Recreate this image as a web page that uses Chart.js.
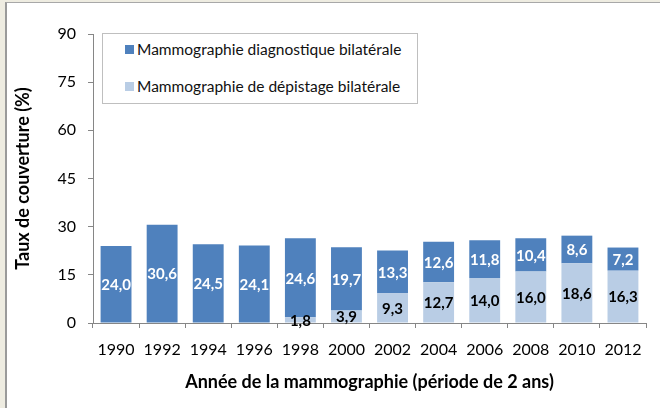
<!DOCTYPE html>
<html lang="fr">
<head>
<meta charset="utf-8">
<script src="https://cdn.jsdelivr.net/npm/chart.js@4"></script>
<style>
  html, body { margin: 0; padding: 0; background: #EEECE1; }
  #page { position: relative; width: 660px; height: 408px; overflow: hidden; }
  #frame {
    position: absolute; left: 5px; top: 2px; right: 0; bottom: 0;
    background: #fff; border-left: 2px solid #9A9A9A; border-top: 1px solid #A8A8A8;
  }
  #coverChart { position: absolute; left: 0; top: 0; }
  #legend {
    position: absolute; left: 102px; top: 33px; width: 316px; height: 71px;
    border: 1px solid #BFBFBF; background: #fff; box-sizing: border-box;
    font-family: Lato, "Liberation Sans", sans-serif; font-size: 15.5px; color: #111;
  }
  .item { position: absolute; left: 22px; display: flex; align-items: center; white-space: nowrap; }
  .swatch { width: 9px; height: 9px; margin-right: 3px; }
</style>
</head>
<body>
<div id="page">
  <div id="frame"></div>
  <canvas id="coverChart" width="660" height="408"></canvas>
  <div id="legend"></div>
</div>
<script>
// ===============================
// Données : taux de couverture (%)
// ===============================
const years = ["1990", "1992", "1994", "1996", "1998", "2000", "2002", "2004", "2006", "2008", "2010", "2012"];
const diagnostic = [24.0, 30.6, 24.5, 24.1, 24.6, 19.7, 13.3, 12.6, 11.8, 10.4, 8.6, 7.2];
const depistage = [null, null, null, null, 1.8, 3.9, 9.3, 12.7, 14.0, 16.0, 18.6, 16.3];
const yTicks = [0, 15, 30, 45, 60, 75, 90];

const FONT = "Lato, 'Liberation Sans', sans-serif";
const AXIS_GREY = "#868686";

// Étiquettes de valeurs au centre de chaque segment
const valueLabels = {
  id: "valueLabels",
  afterDatasetsDraw(chart) {
    const ctx = chart.ctx;
    ctx.save();
    ctx.font = "bold 15px " + FONT;
    ctx.textAlign = "center";
    ctx.textBaseline = "middle";
    chart.data.datasets.forEach((ds, i) => {
      const meta = chart.getDatasetMeta(i);
      meta.data.forEach((bar, j) => {
        const v = ds.data[j];
        if (v == null) return;
        const { x, y, base } = bar.getProps(["x", "y", "base"], true);
        ctx.fillStyle = ds.labelColor;
        ctx.fillText(v.toFixed(1).replace(".", ","), x, (y + base) / 2 + 1);
      });
    });
    ctx.restore();
  }
};

const chart = new Chart(document.getElementById("coverChart").getContext("2d"), {
  type: "bar",
  data: {
    labels: years,
    datasets: [
      {
        label: "Mammographie de dépistage bilatérale",
        data: depistage,
        backgroundColor: "#B9CDE5",
        labelColor: "#000",
        legendOrder: 2
      },
      {
        label: "Mammographie diagnostique bilatérale",
        data: diagnostic,
        backgroundColor: "#4F81BD",
        labelColor: "#fff",
        legendOrder: 1
      }
    ]
  },
  options: {
    responsive: false,
    animation: false,
    events: [],
    layout: { padding: { top: 34, right: 14, bottom: 0, left: 10 } },
    datasets: { bar: { barPercentage: 0.67, categoryPercentage: 1, borderWidth: 0 } },
    plugins: { legend: { display: false }, tooltip: { enabled: false } },
    scales: {
      x: {
        stacked: true,
        offset: true,
        grid: { offset: true, drawOnChartArea: false, drawTicks: true, tickLength: 5, color: AXIS_GREY },
        border: { color: AXIS_GREY, width: 1 },
        ticks: { color: "#000", font: { family: FONT, size: 16 }, padding: 12, maxRotation: 0 },
        title: {
          display: true,
          text: "Année de la mammographie (période de 2 ans)",
          color: "#000",
          font: { family: FONT, size: 18, weight: "bold" },
          padding: { top: 0, bottom: 15 }
        },
        afterFit: scale => { scale.height = 85; }
      },
      y: {
        stacked: true,
        min: 0,
        max: 90,
        afterBuildTicks: scale => { scale.ticks = yTicks.map(v => ({ value: v })); },
        grid: { drawOnChartArea: false, drawTicks: true, tickLength: 5, color: AXIS_GREY },
        border: { color: AXIS_GREY, width: 1 },
        ticks: { color: "#000", font: { family: FONT, size: 16 }, padding: 12 },
        title: {
          display: true,
          text: "Taux de couverture (%)",
          color: "#000",
          font: { family: FONT, size: 18, weight: "bold" },
          padding: { top: 2, bottom: 0 }
        },
        afterFit: scale => { scale.width = 83; }
      }
    }
  },
  plugins: [valueLabels]
});

// Légende HTML dans un cadre, dans l'ordre d'Excel
const legendEl = document.getElementById("legend");
chart.data.datasets
  .slice()
  .sort((a, b) => a.legendOrder - b.legendOrder)
  .forEach((ds, i) => {
    const item = document.createElement("div");
    item.className = "item";
    item.style.top = (i === 0 ? 6 : 43) + "px";
    item.innerHTML = `<span class="swatch" style="background:${ds.backgroundColor}"></span><span>${ds.label}</span>`;
    legendEl.appendChild(item);
  });
</script>
</body>
</html>
